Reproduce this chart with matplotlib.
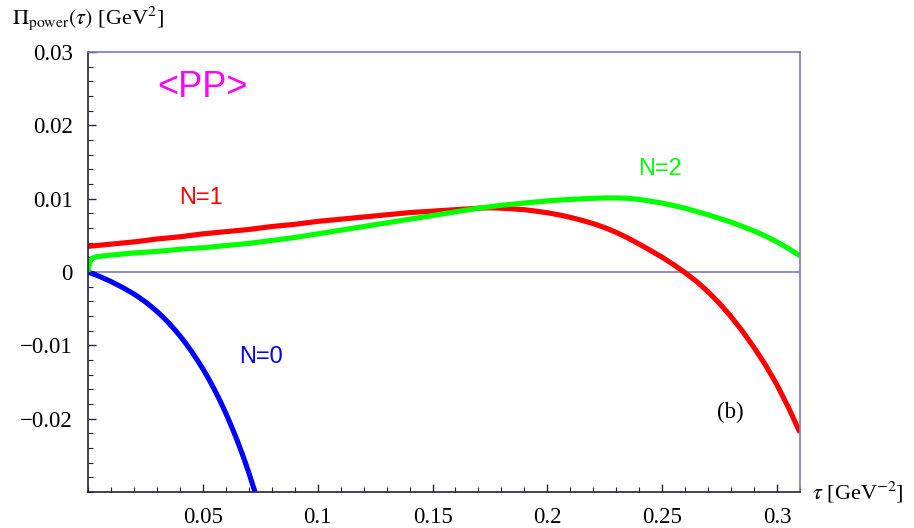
import matplotlib
matplotlib.use('Agg')
import matplotlib.pyplot as plt
from matplotlib.ticker import MultipleLocator, FixedLocator, FixedFormatter

# ***** data *****
tau_n0 = [0, 0.0025, 0.005, 0.0075, 0.010, 0.0125, 0.015, 0.0175, 0.020, 0.0225,
          0.025, 0.0275, 0.030, 0.0325, 0.035, 0.0375, 0.040, 0.0425, 0.045, 0.0475,
          0.050, 0.0525, 0.055, 0.0575, 0.060, 0.0625, 0.065, 0.0675, 0.070, 0.0725, 0.0735]
pi_n0 = [0, -0.0003, -0.0006, -0.00095, -0.0013, -0.0017, -0.0021, -0.00255, -0.0030, -0.00352,
         -0.00408, -0.0047, -0.00537, -0.0061, -0.0069, -0.00777, -0.0087, -0.0097, -0.0108,
         -0.01197, -0.0132, -0.01455, -0.0160, -0.01757, -0.01925, -0.02107, -0.0230, -0.0251,
         -0.02735, -0.0298, -0.0308]

tau_n1 = [0, 0.01, 0.02, 0.03, 0.04, 0.05, 0.06, 0.07, 0.08, 0.09, 0.10, 0.11, 0.12, 0.13,
          0.14, 0.15, 0.16, 0.17, 0.175, 0.18, 0.185, 0.19, 0.195, 0.20, 0.205, 0.21, 0.215,
          0.22, 0.225, 0.23, 0.235, 0.24, 0.245, 0.25, 0.255, 0.26, 0.265, 0.27, 0.275, 0.28,
          0.285, 0.29, 0.295, 0.30, 0.305, 0.31]
pi_n1 = [0.0035, 0.0038, 0.0041, 0.0045, 0.0048, 0.0052, 0.0055, 0.0058, 0.0062, 0.0065,
         0.0069, 0.0072, 0.0075, 0.0078, 0.0081, 0.0083, 0.0085, 0.0087, 0.00875, 0.0087,
         0.0086, 0.0085, 0.0083, 0.00808, 0.0078, 0.00745, 0.00705, 0.0066, 0.00605, 0.0054,
         0.00465, 0.0038, 0.00292, 0.0020, 0.0010, -0.0001, -0.0013, -0.0027, -0.0043,
         -0.0061, -0.0081, -0.0103, -0.0127, -0.0154, -0.0185, -0.0219]

tau_n2 = [0, 0.0005, 0.001, 0.002, 0.004, 0.01, 0.02, 0.03, 0.04, 0.05, 0.06, 0.07, 0.08,
          0.09, 0.10, 0.11, 0.12, 0.13, 0.14, 0.15, 0.16, 0.17, 0.18, 0.19, 0.20, 0.21,
          0.22, 0.225, 0.23, 0.235, 0.24, 0.25, 0.26, 0.27, 0.28, 0.29, 0.295, 0.30, 0.305, 0.31]
pi_n2 = [0.0, 0.0010, 0.0015, 0.0019, 0.0021, 0.0023, 0.0026, 0.0028, 0.0031, 0.0033,
         0.0036, 0.0039, 0.0043, 0.0047, 0.0052, 0.0057, 0.0062, 0.0067, 0.0072, 0.0077,
         0.0082, 0.0087, 0.0091, 0.0094, 0.0097, 0.0099, 0.01005, 0.0101, 0.0101, 0.01005,
         0.0099, 0.0094, 0.0087, 0.0078, 0.0068, 0.0056, 0.0049, 0.0041, 0.0032, 0.0022]

xticks = [0.05, 0.1, 0.15, 0.2, 0.25, 0.3]
xticklabels = ['0.05', '0.1', '0.15', '0.2', '0.25', '0.3']
yticks = [0.03, 0.02, 0.01, 0, -0.01, -0.02]
yticklabels = ['0.03', '0.02', '0.01', '0', '\u22120.01', '\u22120.02']

# ***** figure *****
plt.rcParams['mathtext.fontset'] = 'stix'
serif = 'Liberation Serif'
sans = 'Liberation Sans'

fig = plt.figure(figsize=(9.14, 5.28), dpi=100)
ax = fig.add_axes([88/914, 1-492/528, 712/914, 440/528])
ax.set_xlim(0, 0.31)
ax.set_ylim(-0.03, 0.03)

frame_col = '#7a7ab8'
dark = '#222238'
ax.spines['top'].set_color(frame_col)
ax.spines['right'].set_color(frame_col)
ax.spines['left'].set_color(dark)
ax.spines['bottom'].set_color(dark)
for s in ax.spines.values():
    s.set_linewidth(1.2)

ax.axhline(0, color=frame_col, lw=1.2, zorder=1)

ax.plot(tau_n0, pi_n0, color='#0000ff', lw=3.7, solid_capstyle='butt')
ax.plot(tau_n1, pi_n1, color='#ff0000', lw=3.7, solid_capstyle='butt')
ax.plot(tau_n2, pi_n2, color='#00ff00', lw=3.7, solid_capstyle='butt')

# ticks
ax.xaxis.set_major_locator(FixedLocator(xticks))
ax.xaxis.set_major_formatter(FixedFormatter(xticklabels))
ax.xaxis.set_minor_locator(MultipleLocator(0.01))
ax.yaxis.set_major_locator(FixedLocator(yticks))
ax.yaxis.set_major_formatter(FixedFormatter(yticklabels))
ax.yaxis.set_minor_locator(MultipleLocator(0.002))
ax.tick_params(which='both', direction='in', top=False, right=False, color=dark)
ax.tick_params(which='major', length=6, width=1.0, labelsize=16.5)
ax.tick_params(which='minor', length=3.5, width=0.8)
ax.tick_params(axis='y', which='major', pad=11)
ax.tick_params(axis='x', which='major', pad=11)
for lab in ax.get_xticklabels() + ax.get_yticklabels():
    lab.set_fontfamily(serif)

# text labels
ax.text(0.050, 0.0252, '<PP>', color='#ff00ff', fontsize=26, family=sans, ha='center', va='center')
ax.text(0.049, 0.0101, 'N=1', color='#ff0000', fontsize=17, family=sans, ha='center', va='center')
ax.text(0.249, 0.0140, 'N=2', color='#00ff00', fontsize=17, family=sans, ha='center', va='center')
ax.text(0.0752, -0.0116, 'N=0', color='#0000ff', fontsize=17, family=sans, ha='center', va='center')
ax.text(0.2796, -0.0191, '(b)', color='black', fontsize=16.5, family=serif, ha='center', va='center')

fig.text(12/914, 1-18/528, r'$\Pi_{\rm power}(\tau)$ [GeV$^2$]', fontsize=16, family=serif,
         ha='left', va='center')
fig.text(812/914, 1-492/528, r'$\tau$ [GeV$^{-2}$]', fontsize=16, family=serif,
         ha='left', va='center')

fig.savefig('out.png', dpi=100, facecolor='white')
